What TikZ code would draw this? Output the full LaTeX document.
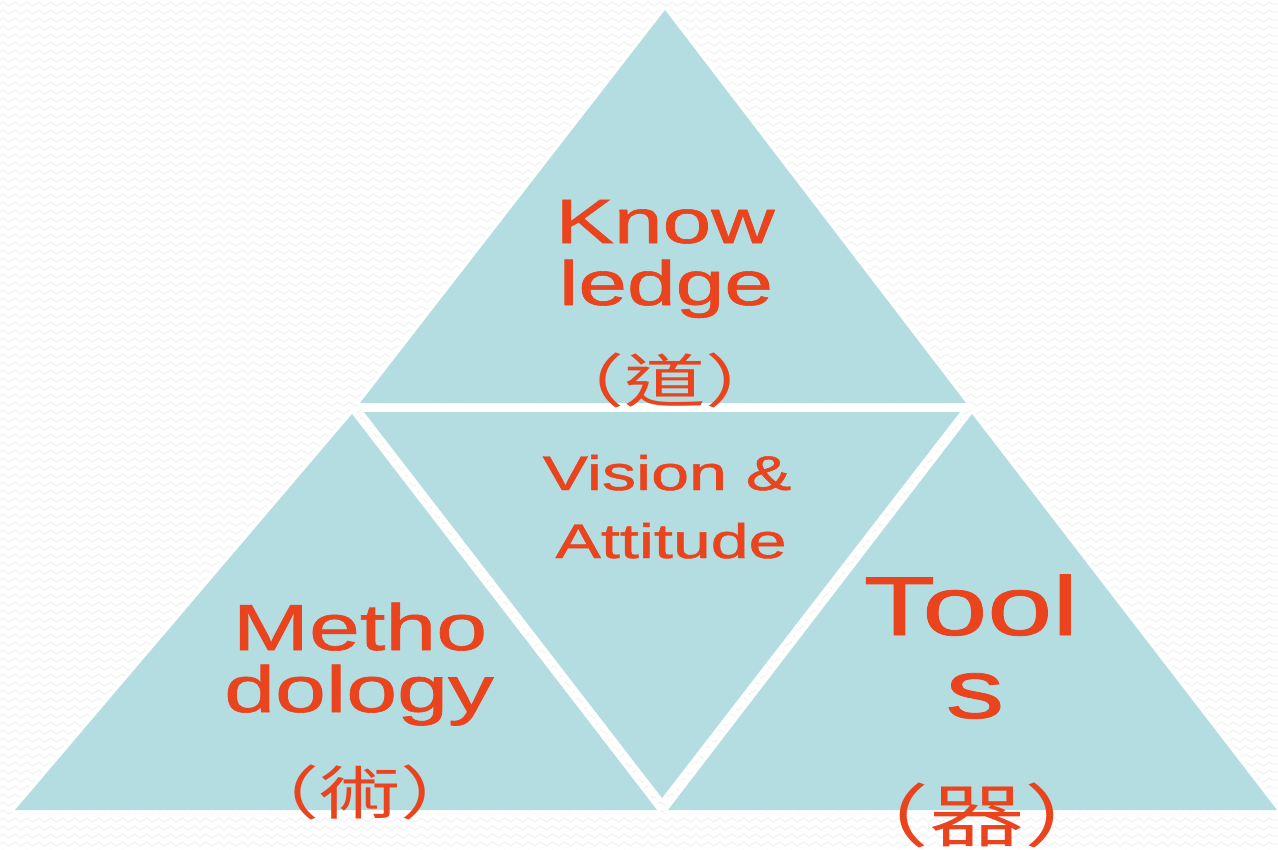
\documentclass[tikz,border=0pt]{standalone}
\usepackage{fontspec}
\setmainfont{Liberation Sans}
\newfontfamily\labelfont{Liberation Sans}[FakeBold=0.9]
\newfontfamily\cjkfont{Noto Sans CJK TC}
\usetikzlibrary{decorations.pathmorphing}
\definecolor{tricyan}{HTML}{B4DDE1}
\definecolor{textred}{HTML}{E9441D}
\begin{document}
\begin{tikzpicture}
[x=0.02cm,y=-0.02cm,
  tridecorate/.style={fill=tricyan},
  halodecorate/.style={draw=white,line width=4pt,line join=round},
  textdecorate/.style={anchor=base,inner sep=0pt,text=textred,xscale=1.4,transform shape},
  zigdecorate/.style={gray!12,line width=0.5pt,decorate,
    decoration={zigzag,segment length=6.8pt,amplitude=1.1pt}}]
\useasboundingbox (0,0) rectangle (1278,849);
%% background
\fill[white] (0,0) rectangle (1278,849);
\foreach \row in {4,12,...,852} {
  \draw[zigdecorate] (0,\row) -- (1278,\row);
}
%% corners of the four triangles
\foreach \cornername/\x/\y in {top/665/10, topl/360/403, topr/966/403,
  mid/662/798, midl/364/412, midr/960/412,
  left/352/414, leftl/15/810, leftr/657/810,
  right/972/414, rightl/668/810, rightr/1277/810} {
  \coordinate (\cornername) at (\x,\y);
}
%% triangles
\foreach \a/\b/\c in {top/topl/topr, mid/midl/midr, left/leftl/leftr,
  right/rightl/rightr} {
  \draw[halodecorate] (\a) -- (\b) -- (\c) -- cycle;
}
\foreach \a/\b/\c in {top/topl/topr, mid/midl/midr, left/leftl/leftr,
  right/rightl/rightr} {
  \fill[tridecorate] (\a) -- (\b) -- (\c) -- cycle;
}
%% labels
\foreach \nodename/\x/\y/\size/\txt in {know/665/243/35.6/Know,
  ledge/666/305/35.6/ledge, vision/667/490/27.7/Vision \&,
  attitude/671/558/27.7/Attitude, metho/360/650/37.2/Metho,
  dology/359/712/37.2/dology, tool/971/635/47.5/Tool,
  tools/975/718/47.5/s} {
  \node[textdecorate,font=\labelfont\fontsize{\size}{\size}\selectfont] (\nodename)
    at (\x,\y) {\txt};
}
\foreach \nodename/\x/\y/\size/\txt in {dao/665/402/33/（道）,
  shu/360/814/33/（術）, qi/977/841/39/（器）} {
  \node[textdecorate,font=\cjkfont\fontsize{\size}{\size}\selectfont]
    (\nodename) at (\x,\y) {\txt};
}
\end{tikzpicture}
\end{document}
